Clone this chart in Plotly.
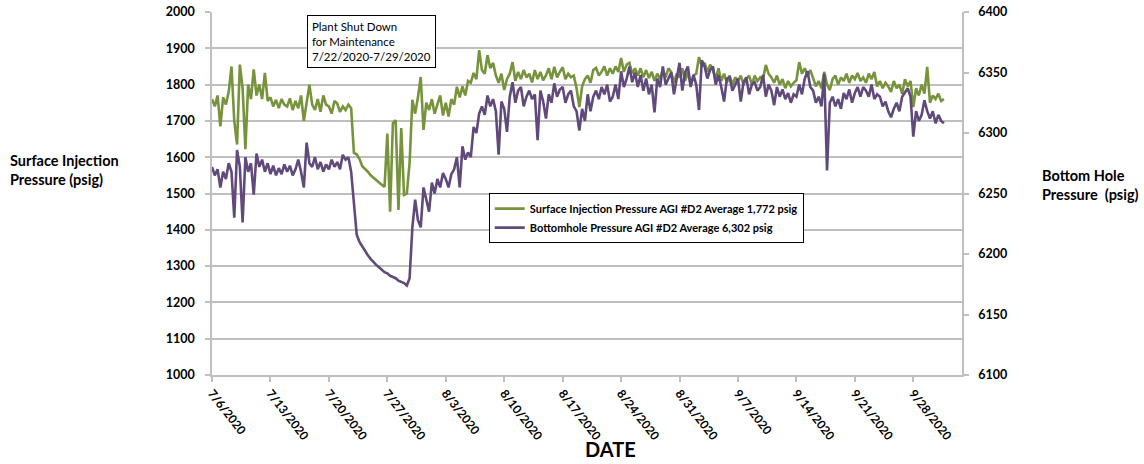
import pandas as pd
import plotly.graph_objects as go

start_date = "2020-07-06"
step = "8h"

# three readings per day (00:00, 08:00, 16:00), 7/6/2020 onward
surface_psig = [
    1760, 1740, 1770,  1685, 1765, 1745,  1780, 1850, 1700,  1635, 1855, 1790,
    1622, 1800, 1760,  1842, 1770, 1800,  1760, 1832, 1755,  1765, 1740, 1758,
    1735, 1760, 1745,  1740, 1762, 1730,  1755, 1735, 1770,  1700, 1750, 1800,
    1745, 1730, 1760,  1725, 1770, 1745,  1740, 1720, 1755,  1748, 1725, 1740,
    1730, 1745, 1735,  1612, 1608, 1595,  1575, 1568, 1560,  1550, 1543, 1537,
    1530, 1524, 1518,  1665, 1450, 1694,  1702, 1455, 1680,  1496, 1500, 1584,
    1758, 1720, 1765,  1821, 1675, 1750,  1730, 1760, 1720,  1745, 1770, 1715,
    1750, 1712, 1760,  1745, 1794, 1765,  1795, 1770, 1810,  1805, 1832, 1815,
    1895, 1840, 1830,  1881, 1845, 1860,  1825, 1805, 1830,  1785, 1815, 1830,
    1862, 1810, 1835,  1815, 1840, 1820,  1830, 1806, 1840,  1815, 1835, 1812,
    1825, 1845, 1815,  1849, 1820, 1835,  1848, 1815, 1830,  1820, 1825, 1790,
    1738, 1795, 1815,  1825, 1805, 1840,  1846, 1825, 1835,  1850, 1825, 1845,
    1830, 1850, 1835,  1873, 1835, 1855,  1860, 1830, 1845,  1825, 1845, 1820,
    1840, 1818, 1835,  1810, 1830, 1815,  1840, 1820, 1845,  1835, 1805, 1830,
    1820, 1845, 1810,  1835, 1800, 1825,  1830, 1876, 1850,  1860, 1835, 1855,
    1840, 1815, 1845,  1810, 1830, 1805,  1825, 1800, 1820,  1810, 1825, 1800,
    1815, 1825, 1800,  1825, 1810, 1820,  1815, 1854, 1830,  1820, 1805, 1825,
    1800, 1815, 1790,  1810, 1795, 1805,  1812, 1862, 1830,  1845, 1825, 1840,
    1820, 1795, 1810,  1790, 1835, 1800,  1785, 1815, 1825,  1800, 1820, 1810,
    1830, 1805, 1825,  1815, 1832, 1810,  1820, 1805, 1830,  1815, 1835, 1795,
    1810, 1790, 1805,  1795, 1780, 1810,  1790, 1800, 1775,  1815, 1795, 1810,
    1738, 1790, 1770,  1800, 1775, 1849,  1750, 1770, 1760,  1775, 1755, 1760,
]

bottomhole_psig = [
    6272, 6265, 6270,  6255, 6268, 6262,  6275, 6268, 6230,  6286, 6272, 6226,
    6280, 6268, 6275,  6249, 6283, 6272,  6278, 6268, 6275,  6266, 6273, 6265,
    6271, 6266, 6274,  6268, 6273, 6265,  6270, 6278, 6268,  6255, 6292, 6275,
    6272, 6280, 6270,  6276, 6268, 6274,  6270, 6278, 6272,  6276, 6270, 6282,
    6278, 6280, 6268,  6240, 6216, 6210,  6206, 6202, 6199,  6196, 6193, 6191,
    6189, 6187, 6185,  6184, 6182, 6181,  6180, 6178, 6177,  6176, 6174, 6180,
    6222, 6245, 6228,  6222, 6255, 6245,  6235, 6259, 6250,  6262, 6255, 6267,
    6262, 6255, 6266,  6270, 6280, 6255,  6289, 6278, 6284,  6280, 6305, 6300,
    6316, 6322, 6315,  6331, 6322, 6328,  6318, 6282, 6326,  6320, 6301, 6330,
    6342, 6325, 6335,  6338, 6322, 6330,  6335, 6328, 6332,  6294, 6335, 6326,
    6312, 6332, 6325,  6341, 6330, 6336,  6338, 6325, 6332,  6335, 6322, 6318,
    6302, 6320, 6310,  6332, 6318, 6330,  6335, 6328, 6338,  6332, 6340, 6326,
    6330, 6340, 6328,  6351, 6338, 6345,  6355, 6342, 6350,  6338, 6348, 6335,
    6345, 6332, 6340,  6317, 6345, 6338,  6355, 6340, 6345,  6350, 6332, 6345,
    6358, 6335, 6350,  6355, 6338, 6348,  6340, 6319, 6360,  6355, 6345, 6352,
    6355, 6340, 6348,  6338, 6326, 6345,  6346, 6335, 6340,  6345, 6326, 6342,
    6346, 6332, 6340,  6342, 6335, 6338,  6348, 6330, 6340,  6335, 6323, 6338,
    6330, 6336, 6328,  6333, 6325, 6332,  6330, 6340, 6332,  6345, 6351, 6338,
    6335, 6325, 6330,  6322, 6349, 6269,  6325, 6330, 6322,  6328, 6320, 6333,
    6328, 6336, 6325,  6333, 6338, 6330,  6338, 6335, 6330,  6340, 6328, 6332,
    6330, 6322, 6326,  6318, 6313, 6320,  6325, 6318, 6330,  6333, 6337, 6330,
    6297, 6318, 6310,  6315, 6327, 6318,  6312, 6318, 6308,  6315, 6310, 6308,
]

dates = pd.date_range(start_date, periods=len(surface_psig), freq=step)

surface_label = "Surface Injection Pressure AGI #D2 Average 1,772 psig"
bottom_label = "Bottomhole Pressure AGI #D2 Average 6,302 psig"

GREEN = "#77933C"
PURPLE = "#604A7B"
GRID = "#BFBFBF"

fig = go.Figure()
fig.add_trace(go.Scatter(x=dates, y=surface_psig, mode="lines", name=surface_label,
                         line=dict(color=GREEN, width=2.6), yaxis="y"))
fig.add_trace(go.Scatter(x=dates, y=bottomhole_psig, mode="lines", name=bottom_label,
                         line=dict(color=PURPLE, width=2.6), yaxis="y2"))

tick_font = dict(family="Lato", size=12.5, color="#000000", weight="bold")
title_font = dict(family="Lato", size=14.5, color="#000000", weight="bold")

fig.update_layout(
    width=1144, height=464,
    margin=dict(l=212, r=182, t=12, b=89, autoexpand=False),
    paper_bgcolor="white", plot_bgcolor="white",
    showlegend=True,
    legend=dict(x=0.369, y=0.501, xanchor="left", yanchor="top",
                bgcolor="white", bordercolor="#000000", borderwidth=1,
                font=dict(family="Lato", size=11, color="#000000", weight="bold"),
                tracegroupgap=0, itemwidth=30),
    xaxis=dict(
        type="date", automargin=False,
        range=["2020-07-06", "2020-10-03 20:00"],
        tick0="2020-07-06", dtick=7 * 24 * 3600 * 1000,
        tickformat="%-m/%-d/%Y", tickangle=52,
        showgrid=False, showline=True, linecolor=GRID, linewidth=1.5,
        ticks="outside", tickcolor=GRID, ticklen=5, tickwidth=1.5,
        tickfont=dict(family="Lato", size=12, color="#000000", weight="bold"),
        ticklabeloverflow="allow", zeroline=False,
    ),
    yaxis=dict(
        range=[1000, 2000], dtick=100, automargin=False,
        showgrid=True, gridcolor=GRID, gridwidth=1.5,
        showline=True, linecolor=GRID, linewidth=1.5,
        ticks="outside", tickcolor=GRID, ticklen=5, tickwidth=1.5,
        ticklabelstandoff=8, ticklabeloverflow="allow",
        tickfont=tick_font, zeroline=False,
    ),
    yaxis2=dict(
        range=[6100, 6400], dtick=50, overlaying="y", side="right", automargin=False,
        showgrid=False, showline=True, linecolor=GRID, linewidth=1.5,
        ticks="outside", tickcolor=GRID, ticklen=5, tickwidth=1.5,
        ticklabelstandoff=7, ticklabeloverflow="allow",
        tickfont=tick_font, zeroline=False,
    ),
)

fig.add_annotation(xref="paper", yref="paper", x=-0.272, y=0.565, xanchor="left", yanchor="middle",
                   text="Surface Injection<br>Pressure (psig)", showarrow=False, align="left",
                   font=title_font)
fig.add_annotation(xref="paper", yref="paper", x=1.104, y=0.523, xanchor="left", yanchor="middle",
                   text="Bottom Hole<br>Pressure  (psig)", showarrow=False, align="left",
                   font=title_font)
fig.add_annotation(xref="paper", yref="paper", x=0.531, y=-0.243, xanchor="center", yanchor="bottom",
                   text="DATE", showarrow=False,
                   font=dict(family="Lato", size=20, color="#000000", weight="bold"))
fig.add_annotation(xref="paper", yref="paper", x=0.1267, y=0.992, xanchor="left", yanchor="top",
                   text="Plant Shut Down<br>for Maintenance<br>7/22/2020-7/29/2020", showarrow=False,
                   align="left", bgcolor="white", bordercolor="#000000", borderwidth=1, borderpad=4,
                   font=dict(family="Lato", size=11.5, color="#000000"))

# remove the browser's default page margin so the figure sits at the window origin
fig.write_html("out.html", config={"displayModeBar": False},
               post_script="document.body.style.margin='0';")
